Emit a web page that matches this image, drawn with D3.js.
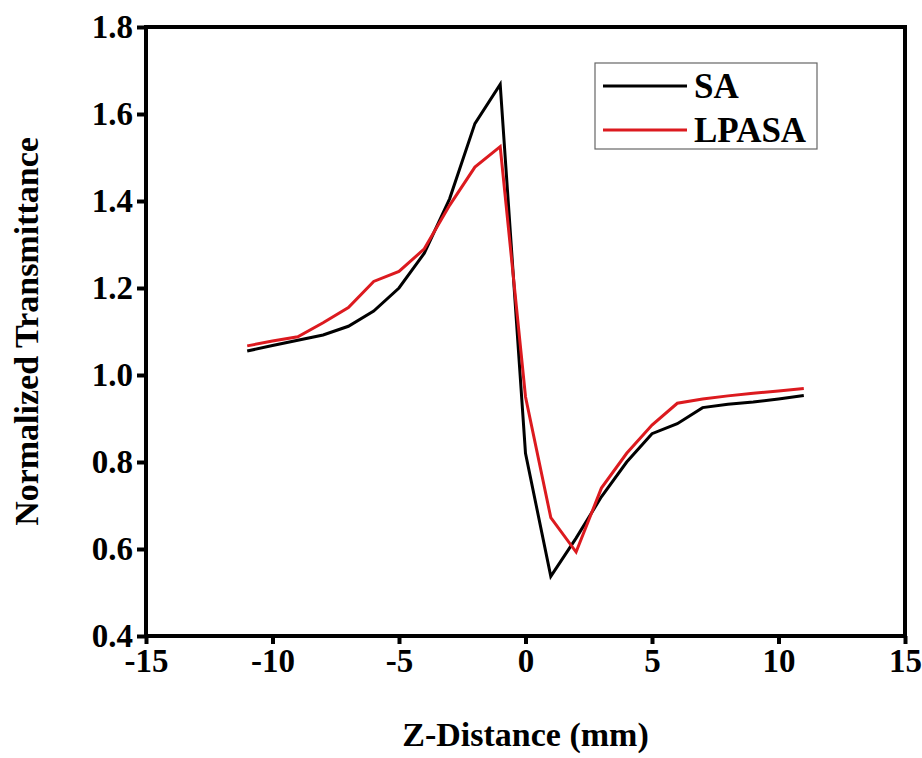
<!DOCTYPE html>
<html>
<head>
<meta charset="utf-8">
<script src="https://cdn.jsdelivr.net/npm/d3@7"></script>
<style>
  body { margin: 0; background: #fff; }
  text { font-family: "Liberation Serif", "Times New Roman", serif; font-weight: bold; fill: #000; }
</style>
</head>
<body>
<div id="chart"></div>
<script>
const zDistance = [-11, -10, -9, -8, -7, -6, -5, -4, -3, -2, -1, 0, 1, 2, 3, 4, 5, 6, 7, 8, 9, 10, 11];
const saValues = [1.055, 1.068, 1.080, 1.092, 1.112, 1.147, 1.200, 1.280, 1.405, 1.578, 1.668, 0.820, 0.537, 0.625, 0.720, 0.800, 0.865, 0.888, 0.925, 0.933, 0.938, 0.945, 0.953];
const lpasaValues = [1.067, 1.078, 1.088, 1.120, 1.155, 1.215, 1.238, 1.290, 1.390, 1.478, 1.525, 0.950, 0.672, 0.593, 0.740, 0.820, 0.885, 0.935, 0.945, 0.952, 0.958, 0.963, 0.969];
const xTicks = [-15, -10, -5, 0, 5, 10, 15];
const yTicks = [0.4, 0.6, 0.8, 1.0, 1.2, 1.4, 1.6, 1.8];

const width = 922, height = 758;
const margin = { top: 27, right: 17, bottom: 122, left: 146 };
const w = width - margin.left - margin.right;
const h = height - margin.top - margin.bottom;

const svg = d3.select("#chart").append("svg")
    .attr("width", width)
    .attr("height", height);

const g = svg.append("g").attr("transform", `translate(${margin.left},${margin.top})`);

const x = d3.scaleLinear().domain([-15, 15]).range([0, w]);
const y = d3.scaleLinear().domain([0.4, 1.8]).range([h, 0]);

// axes
const xAxis = g.append("g")
    .attr("transform", `translate(0,${h})`)
    .call(d3.axisBottom(x).tickValues(xTicks).tickSize(8).tickPadding(5).tickFormat(d3.format("d")));

const yAxis = g.append("g")
    .call(d3.axisLeft(y).tickValues(yTicks).tickSize(9).tickPadding(4).tickFormat(d3.format(".1f")));

[xAxis, yAxis].forEach(a => {
    a.select(".domain").remove();
    a.selectAll(".tick line").attr("stroke", "#000").attr("stroke-width", 4);
    a.selectAll(".tick text").style("font-size", "33px");
});
xAxis.selectAll(".tick text").text(d => d < 0 ? "-" + Math.abs(d) : d);

// frame
g.append("rect")
    .attr("width", w)
    .attr("height", h)
    .attr("fill", "none")
    .attr("stroke", "#000")
    .attr("stroke-width", 4);

// lines
const line = vals => d3.line()
    .x((d, i) => x(zDistance[i]))
    .y(d => y(d))(vals);

g.append("path")
    .attr("d", line(saValues))
    .attr("fill", "none")
    .attr("stroke", "#000")
    .attr("stroke-width", 3);

g.append("path")
    .attr("d", line(lpasaValues))
    .attr("fill", "none")
    .attr("stroke", "#dc1a1f")
    .attr("stroke-width", 3);

// legend
const legend = svg.append("g").attr("transform", "translate(595,63)");
legend.append("rect")
    .attr("width", 222)
    .attr("height", 86)
    .attr("fill", "#fff")
    .attr("stroke", "#666")
    .attr("stroke-width", 1.2);

const legendItems = [
    { name: "SA", color: "#000", yy: 23 },
    { name: "LPASA", color: "#dc1a1f", yy: 67 }
];
legendItems.forEach(it => {
    legend.append("line")
        .attr("x1", 8).attr("x2", 92)
        .attr("y1", it.yy).attr("y2", it.yy)
        .attr("stroke", it.color)
        .attr("stroke-width", 3);
    legend.append("text")
        .attr("x", 99)
        .attr("y", it.yy + 12)
        .style("font-size", "35px")
        .text(it.name);
});

// axis titles
svg.append("text")
    .attr("x", margin.left + w / 2)
    .attr("y", 746)
    .attr("text-anchor", "middle")
    .style("font-size", "34px")
    .text("Z-Distance (mm)");

svg.append("text")
    .attr("transform", `translate(38,${margin.top + h / 2}) rotate(-90)`)
    .attr("text-anchor", "middle")
    .style("font-size", "34px")
    .text("Normalized Transmittance");
</script>
</body>
</html>
